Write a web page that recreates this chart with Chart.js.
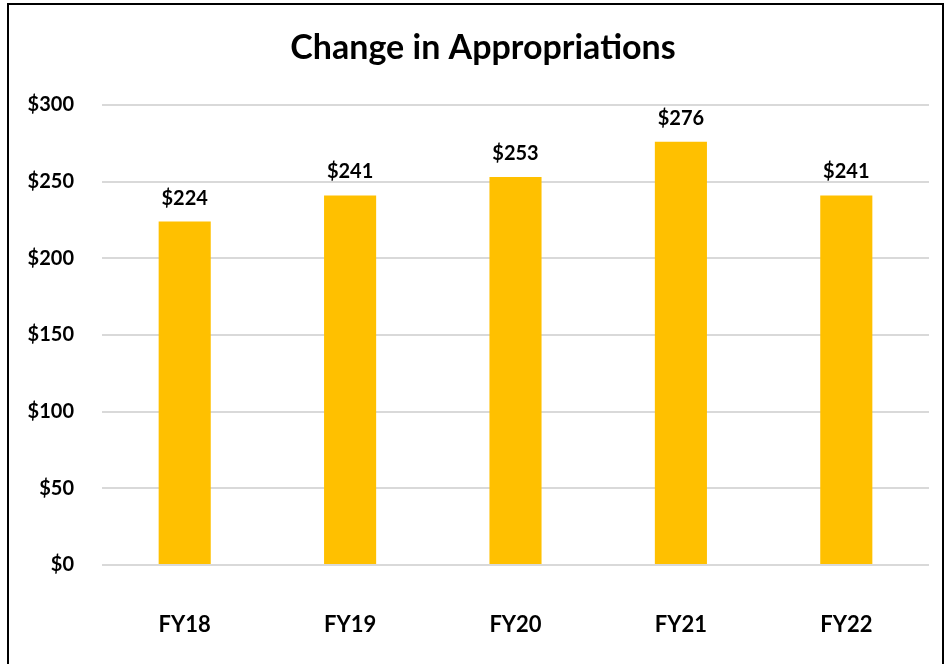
<!DOCTYPE html>
<html><head><meta charset="utf-8">
<script src="https://cdn.jsdelivr.net/npm/chart.js@4/dist/chart.umd.min.js"></script>
<style>
html,body{margin:0;padding:0;background:#fff;overflow:hidden}
#frame{position:absolute;left:7px;top:3px;width:937px;height:700px;border:2px solid #000;box-sizing:border-box}
#wrap{position:absolute;left:0;top:0;width:949px;height:664px}
</style></head><body>
<div id="frame"></div>
<div id="wrap"><canvas id="c" width="949" height="664"></canvas></div>
<script>
const categories = ["FY18","FY19","FY20","FY21","FY22"];
const appropriations = [224, 241, 253, 276, 241];
const yTicks = [0, 50, 100, 150, 200, 250, 300];
const chartTitle = "Change in Appropriations";

const FONT = "Lato, 'Open Sans', 'Liberation Sans', sans-serif";

const labelPlugin = {
  id: 'valLabels',
  afterDatasetsDraw(chart) {
    const ctx = chart.ctx;
    const meta = chart.getDatasetMeta(0);
    ctx.save();
    ctx.font = "bold 20px " + FONT;
    ctx.fillStyle = "#000";
    ctx.textAlign = "center";
    ctx.textBaseline = "alphabetic";
    meta.data.forEach((bar, i) => {
      ctx.fillText("$" + appropriations[i], bar.x, bar.y - 17);
    });
    ctx.restore();
  }
};

const titlePlugin = {
  id: 'offsetTitle',
  afterDraw(chart) {
    const ctx = chart.ctx;
    ctx.save();
    ctx.font = "bold 34px " + FONT;
    ctx.fillStyle = "#000";
    ctx.textAlign = "center";
    ctx.textBaseline = "middle";
    ctx.fillText(chartTitle, 483, 48);
    ctx.restore();
  }
};

new Chart(document.getElementById('c'), {
  type: 'bar',
  data: {
    labels: categories,
    datasets: [{
      data: appropriations,
      backgroundColor: '#FFC000',
      borderWidth: 0,
      categoryPercentage: 1.0,
      barPercentage: 0.315
    }]
  },
  options: {
    responsive: false,
    animation: false,
    layout: { padding: { left: 0, right: 20, top: 105, bottom: 0 } },
    plugins: {
      legend: { display: false },
      tooltip: { enabled: false },
      title: { display: false }
    },
    scales: {
      x: {
        grid: { display: false },
        border: { display: false },
        ticks: { color: '#000', font: { family: FONT, size: 22, weight: 'bold' }, padding: 39 },
        afterFit(s) { s.height = 99; }
      },
      y: {
        min: 0, max: 300,
        afterBuildTicks(s) { s.ticks = yTicks.map(v => ({ value: v })); },
        grid: { color: '#d9d9d9', lineWidth: 2, drawTicks: false },
        border: { display: false },
        ticks: {
          color: '#000',
          font: { family: FONT, size: 20, weight: 'bold' },
          padding: 28,
          callback: v => '$' + v
        },
        afterFit(s) { s.width = 102; }
      }
    }
  },
  plugins: [labelPlugin, titlePlugin]
});
</script>
</body></html>
